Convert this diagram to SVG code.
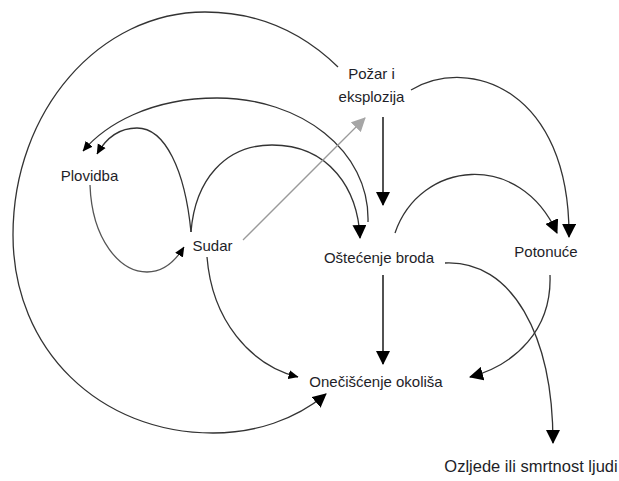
<svg xmlns="http://www.w3.org/2000/svg" width="619" height="481" viewBox="0 0 619 481">
<style>
.lbl{font-family:"Liberation Sans",Arial,sans-serif;font-size:15px;fill:#1e1e28;text-anchor:middle}
.c{fill:none;stroke:#333;stroke-width:1.3}
.v{fill:none;stroke:#333;stroke-width:1.7}
.g{fill:none;stroke:#9a9a9a;stroke-width:1.3}
.lg{fill:none;stroke:#555;stroke-width:1.3}
</style>
<defs>
<marker id="big" markerUnits="userSpaceOnUse" markerWidth="14" markerHeight="14" viewBox="0 0 14 14" refX="13" refY="7" orient="auto">
<path d="M0,0 L14,7 L0,14 z" fill="#000"/>
</marker>
<marker id="small" markerUnits="userSpaceOnUse" markerWidth="10" markerHeight="10" viewBox="0 0 10 10" refX="9.5" refY="5" orient="auto">
<path d="M0,0.5 L10,5 L0,9.5 z" fill="#000"/>
</marker>
<marker id="grey" markerUnits="userSpaceOnUse" markerWidth="14" markerHeight="14" viewBox="0 0 14 14" refX="13" refY="7" orient="auto">
<path d="M0,0 L14,7 L0,14 z" fill="#a6a6a6"/>
</marker>
</defs>
<g id="connectors">
<path class="c" d="M338,67 C300,30 255,12 205,12 C100,12 13,110 13,235 C13,350 100,433 213,433 C255,433 295,420 326,394" marker-end="url(#big)"/>
<path class="c" d="M368,222 C370,150 300,98 217,98 C150,98 105,125 83,151" marker-end="url(#small)"/>
<path class="c" d="M191,232 C185,170 165,128 137,128 C118,128 105,140 97,154" marker-end="url(#small)"/>
<path class="c" d="M191,232 C195,180 225,145 272,145 C330,145 358,190 360,238" marker-end="url(#big)"/>
<path class="lg" d="M90,185 C92,240 120,272 147,272 C165,272 176,260 184,247" marker-end="url(#small)"/>
<path class="g" d="M243,240 L365,118" marker-end="url(#grey)"/>
<path class="c" d="M207,257 C212,320 250,365 298,377" marker-end="url(#small)"/>
<path class="v" d="M383,117 L383,205" marker-end="url(#big)"/>
<path class="c" d="M411,90 C470,55 570,90 569,237" marker-end="url(#big)"/>
<path class="c" d="M395,233 C420,160 520,150 557,233" marker-end="url(#big)"/>
<path class="v" d="M383,275 L383,364" marker-end="url(#big)"/>
<path class="c" d="M445,263 C512,260 553,335 553,443" marker-end="url(#big)"/>
<path class="c" d="M550,275 C552,330 515,365 470,377" marker-end="url(#big)"/>
</g>
<g id="pozar"><text class="lbl" x="371.5" y="79">Požar i</text><text class="lbl" x="371.5" y="102">eksplozija</text></g>
<g id="plovidba"><text class="lbl" x="89.5" y="181">Plovidba</text></g>
<g id="sudar"><text class="lbl" x="212.5" y="251">Sudar</text></g>
<g id="ostecenje"><text class="lbl" x="379" y="263">Oštećenje broda</text></g>
<g id="potonuce"><text class="lbl" x="546" y="257">Potonuće</text></g>
<g id="oneciscenje"><text class="lbl" x="376" y="387">Onečišćenje okoliša</text></g>
<g id="ozljede"><text class="lbl" x="531" y="472" style="font-size:16.5px">Ozljede ili smrtnost ljudi</text></g>
</svg>
